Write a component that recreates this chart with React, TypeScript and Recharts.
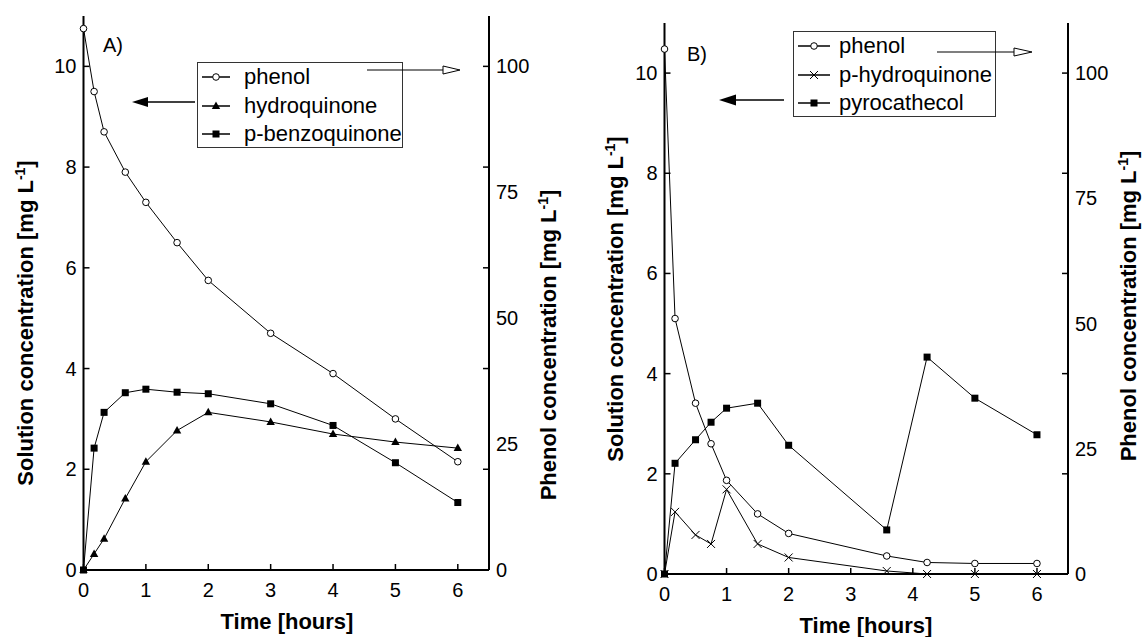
import React from "react";
import { LineChart, Line, XAxis, YAxis, Legend } from "recharts";

const FONT = '"Liberation Sans", Arial, Helvetica, sans-serif';

// panel A (phenol in mg/L on the right axis, others on the left axis)
const timeA = [0, 0.17, 0.33, 0.67, 1, 1.5, 2, 3, 4, 5, 6];
const phenolA = [107.5, 95, 87, 79, 73, 65, 57.5, 47, 39, 30, 21.5];
const hydroquinoneA = [0, 0.32, 0.62, 1.42, 2.15, 2.77, 3.13, 2.94, 2.7, 2.54, 2.42];
const benzoquinoneA = [0, 2.42, 3.13, 3.52, 3.59, 3.53, 3.5, 3.3, 2.87, 2.13, 1.34];

// panel B
const timeB = [0, 0.17, 0.5, 0.75, 1, 1.5, 2, 3.58, 4.23, 5, 6];
const phenolB = [104.8, 51, 34.1, 26, 18.7, 12, 8.1, 3.6, 2.3, 2.1, 2.1];
const hydroquinoneB = [0, 1.24, 0.78, 0.6, 1.69, 0.6, 0.33, 0.06, 0, 0, 0];
const pyrocathecolB = [0, 2.21, 2.68, 3.03, 3.31, 3.41, 2.57, 0.88, 4.33, 3.51, 2.78];

const timeTicks = [0, 1, 2, 3, 4, 5, 6];
const leftTicks = [0, 2, 4, 6, 8, 10];
// tick marks sit at multiples of 20, labels at multiples of 25
const rightTicks = [0, 20, 25, 40, 50, 60, 75, 80, 100];

const rowsA = timeA.map((t, i) => ({ t, phenol: phenolA[i], hq: hydroquinoneA[i], bq: benzoquinoneA[i] }));
const rowsB = timeB.map((t, i) => ({ t, phenol: phenolB[i], hq: hydroquinoneB[i], pc: pyrocathecolB[i] }));

type Shape = "circle" | "triangle" | "square" | "cross";

function Marker({ shape, cx, cy }: { shape: Shape; cx?: number; cy?: number }) {
  if (cx == null || cy == null) return null;
  if (shape === "circle") return <circle cx={cx} cy={cy} r={3.3} fill="#fff" stroke="#000" strokeWidth={1} />;
  if (shape === "triangle")
    return <polygon points={`${cx},${cy - 4.5} ${cx - 4.2},${cy + 3} ${cx + 4.2},${cy + 3}`} fill="#000" />;
  if (shape === "square") return <rect x={cx - 3.5} y={cy - 3.5} width={7} height={7} fill="#000" />;
  return (
    <path
      d={`M${cx - 4},${cy - 4}L${cx + 4},${cy + 4}M${cx - 4},${cy + 4}L${cx + 4},${cy - 4}`}
      stroke="#000"
      strokeWidth={1}
    />
  );
}

const LeftTick = (props: any) => {
  const { x, y, payload } = props;
  return (
    <g>
      <line x1={x} x2={x + 6} y1={y} y2={y} stroke="#000" strokeWidth={1.5} />
      <text x={x - 7} y={y + 7} textAnchor="end" fontSize={20} fontFamily={FONT} fill="#000">
        {payload.value}
      </text>
    </g>
  );
};

const RightTick = (props: any) => {
  const { x, y, payload } = props;
  const v = payload.value;
  return (
    <g>
      {v % 20 === 0 && <line x1={x - 6} x2={x} y1={y} y2={y} stroke="#000" strokeWidth={1.5} />}
      {v % 25 === 0 && (
        <text x={x + 7} y={y + 7} textAnchor="start" fontSize={20} fontFamily={FONT} fill="#000">
          {v}
        </text>
      )}
    </g>
  );
};

const BottomTick = (props: any) => {
  const { x, y, payload } = props;
  return (
    <g>
      <line x1={x} x2={x} y1={y - 6} y2={y} stroke="#000" strokeWidth={1.5} />
      <text x={x} y={y + 27} textAnchor="middle" fontSize={20} fontFamily={FONT} fill="#000">
        {payload.value}
      </text>
    </g>
  );
};

const TopTick = (props: any) => {
  const { x, y } = props;
  return <line x1={x} x2={x} y1={y} y2={y + 6} stroke="#000" strokeWidth={1.5} />;
};

type Item = { name: string; shape: Shape };

function LegendBox({ items, width, sampleW, gap }: { items: Item[]; width: number; sampleW: number; gap: number }) {
  return (
    <div
      style={{
        width,
        height: 86,
        boxSizing: "border-box",
        border: "1px solid #333",
        background: "#fff",
        paddingLeft: 4,
        fontFamily: FONT,
        fontSize: 22,
        color: "#000",
      }}
    >
      {items.map((it) => (
        <div key={it.name} style={{ display: "flex", alignItems: "center", height: 28.5, whiteSpace: "nowrap" }}>
          <svg width={sampleW} height={28} style={{ flex: "none" }}>
            <line x1={0} x2={sampleW} y1={14} y2={14} stroke="#000" strokeWidth={1.5} />
            <Marker shape={it.shape} cx={sampleW / 2} cy={14} />
          </svg>
          <span style={{ marginLeft: gap }}>{it.name}</span>
        </div>
      ))}
    </div>
  );
}

type Series = { key: string; axis: "left" | "right"; shape: Shape };

function Panel(p: {
  left: number;
  width: number;
  top: number;
  bottom: number;
  yWidth: number;
  rightWidth: number;
  rows: any[];
  series: Series[];
  items: Item[];
  legend: { left: number; top: number; width: number; sampleW: number; gap: number };
}) {
  return (
    <div style={{ position: "absolute", left: p.left, top: 0 }}>
      <LineChart width={p.width} height={637} data={p.rows} margin={{ top: p.top, right: 0, bottom: 0, left: 0 }}>
        <XAxis
          dataKey="t"
          type="number"
          domain={[0, 6.5]}
          ticks={timeTicks}
          interval={0}
          height={p.bottom}
          tickLine={false}
          tickSize={0}
          tickMargin={0}
          stroke="#000"
          strokeWidth={2}
          tick={<BottomTick />}
        />
        <XAxis
          xAxisId="top"
          orientation="top"
          dataKey="t"
          type="number"
          domain={[0, 6.5]}
          ticks={timeTicks}
          interval={0}
          height={0}
          tickLine={false}
          tickSize={0}
          tickMargin={0}
          stroke="#000"
          strokeWidth={1.6}
          tick={<TopTick />}
        />
        <YAxis
          yAxisId="left"
          domain={[0, 11]}
          ticks={leftTicks}
          interval={0}
          width={p.yWidth}
          tickLine={false}
          tickSize={0}
          tickMargin={0}
          stroke="#000"
          strokeWidth={2}
          tick={<LeftTick />}
        />
        <YAxis
          yAxisId="right"
          orientation="right"
          domain={[0, 110]}
          ticks={rightTicks}
          interval={0}
          width={p.rightWidth}
          tickLine={false}
          tickSize={0}
          tickMargin={0}
          stroke="#000"
          strokeWidth={2}
          tick={<RightTick />}
        />
        {p.series.map((s) => (
          <Line
            key={s.key}
            dataKey={s.key}
            yAxisId={s.axis}
            type="linear"
            stroke="#000"
            strokeWidth={1}
            isAnimationActive={false}
            activeDot={false}
            dot={(d: any) => <Marker key={`${s.key}-${d.index}`} shape={s.shape} cx={d.cx} cy={d.cy} />}
          />
        ))}
        <Legend
          verticalAlign="middle"
          align="center"
          layout="horizontal"
          wrapperStyle={{ left: p.legend.left, top: p.legend.top, width: "auto", height: "auto" }}
          content={() => (
            <LegendBox items={p.items} width={p.legend.width} sampleW={p.legend.sampleW} gap={p.legend.gap} />
          )}
        />
      </LineChart>
    </div>
  );
}

function VTitle({ x, y, text }: { x: number; y: number; text: string }) {
  return (
    <text
      transform={`translate(${x},${y}) rotate(-90)`}
      textAnchor="middle"
      fontSize={22}
      fontWeight="bold"
      fontFamily={FONT}
      fill="#000"
    >
      {text} [mg L
      <tspan dy={-8} fontSize={14}>
        -1
      </tspan>
      <tspan dy={8}>]</tspan>
    </text>
  );
}

export default function App() {
  return (
    <div style={{ position: "absolute", left: 0, top: 0, width: 1142, height: 637, background: "#fff" }}>
      <Panel
        left={0}
        width={560}
        top={16}
        bottom={67}
        yWidth={83.5}
        rightWidth={71}
        rows={rowsA}
        series={[
          { key: "phenol", axis: "right", shape: "circle" },
          { key: "hq", axis: "left", shape: "triangle" },
          { key: "bq", axis: "left", shape: "square" },
        ]}
        items={[
          { name: "phenol", shape: "circle" },
          { name: "hydroquinone", shape: "triangle" },
          { name: "p-benzoquinone", shape: "square" },
        ]}
        legend={{ left: 197, top: 62, width: 206, sampleW: 28, gap: 14 }}
      />
      <Panel
        left={572}
        width={570}
        top={23}
        bottom={63}
        yWidth={92.5}
        rightWidth={74}
        rows={rowsB}
        series={[
          { key: "phenol", axis: "right", shape: "circle" },
          { key: "hq", axis: "left", shape: "cross" },
          { key: "pc", axis: "left", shape: "square" },
        ]}
        items={[
          { name: "phenol", shape: "circle" },
          { name: "p-hydroquinone", shape: "cross" },
          { name: "pyrocathecol", shape: "square" },
        ]}
        legend={{ left: 221, top: 31, width: 203, sampleW: 32, gap: 9 }}
      />
      <svg
        width={1142}
        height={637}
        style={{ position: "absolute", left: 0, top: 0, pointerEvents: "none" }}
      >
        <text x={103} y={52} fontSize={20} fontFamily={FONT} fill="#000">A)</text>
        <text x={687} y={61} fontSize={20} fontFamily={FONT} fill="#000">B)</text>

        {/* arrows pointing to the axis each series belongs to */}
        <line x1={147} x2={195} y1={102} y2={102} stroke="#000" strokeWidth={1.5} />
        <polygon points="132,102 148,97 148,107" fill="#000" />
        <line x1={367} x2={443} y1={70} y2={70} stroke="#000" strokeWidth={1.2} />
        <polygon points="443,66 460,70 443,74" fill="#fff" stroke="#000" strokeWidth={1} />

        <line x1={735} x2={784} y1={100} y2={100} stroke="#000" strokeWidth={1.5} />
        <polygon points="719,100 736,94.5 736,105.5" fill="#000" />
        <line x1={937} x2={1014} y1={52} y2={52} stroke="#000" strokeWidth={1.2} />
        <polygon points="1014,48 1032,52 1014,56" fill="#fff" stroke="#000" strokeWidth={1} />

        <VTitle x={33} y={323} text="Solution concentration" />
        <VTitle x={556} y={345} text="Phenol concentration" />
        <VTitle x={623} y={299} text="Solution concentration" />
        <VTitle x={1136} y={306} text="Phenol concentration" />

        <text x={287} y={629} textAnchor="middle" fontSize={22} fontWeight="bold" fontFamily={FONT} fill="#000">
          Time [hours]
        </text>
        <text x={866} y={633} textAnchor="middle" fontSize={22} fontWeight="bold" fontFamily={FONT} fill="#000">
          Time [hours]
        </text>
      </svg>
    </div>
  );
}
